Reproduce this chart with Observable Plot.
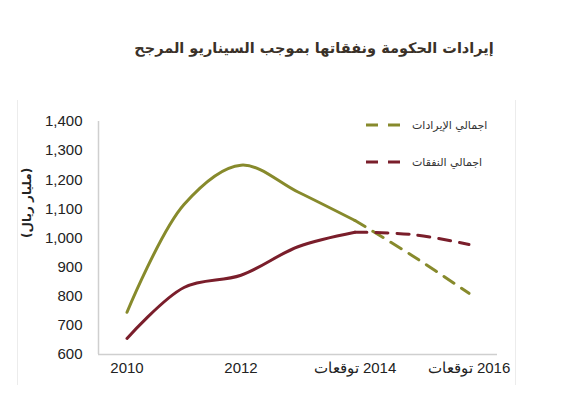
<!DOCTYPE html>
<html><head><meta charset="utf-8">
<script src="https://cdn.jsdelivr.net/npm/d3@7"></script>
<script src="https://cdn.jsdelivr.net/npm/@observablehq/plot@0.6"></script>
<style>
body{margin:0;background:#fff;width:570px;height:396px;position:relative;overflow:hidden;font-family:"Liberation Sans",Arial,sans-serif;}
#title{position:absolute;left:0;top:34px;width:628px;text-align:center;font-family:"DejaVu Sans",sans-serif;font-weight:bold;font-size:14.5px;line-height:28px;color:#3a3128;}
#chart{position:absolute;left:0;top:90px;}
.frame{position:absolute;width:1px;background:#ececec;top:100px;height:285px;}
.leg{position:absolute;left:366px;height:20px;display:flex;align-items:center;}
.leg span{font-family:"DejaVu Sans",sans-serif;font-size:11px;color:#333;margin-left:9px;}
#chart svg [aria-label="x-axis tick label"] text{direction:rtl;}
</style>
</head><body>
<div class="frame" style="left:17px"></div>
<div class="frame" style="left:515px"></div>
<div id="title" dir="rtl">إيرادات الحكومة ونفقاتها بموجب السيناريو المرجح</div>
<div id="chart"></div>
<div class="leg" style="top:115px"><svg width="37" height="6"><line x1="0" y1="3" x2="37" y2="3" stroke="#878a2c" stroke-width="3" stroke-dasharray="12,10"/></svg><span dir="rtl" id="leg1"></span></div>
<div class="leg" style="top:152px"><svg width="37" height="6"><line x1="0" y1="3" x2="37" y2="3" stroke="#7a1e2b" stroke-width="3" stroke-dasharray="12,10"/></svg><span dir="rtl" id="leg2"></span></div>
<script>
const years = [2010, 2011, 2012, 2013, 2014, 2015, 2016];
const revenue = [745, 1115, 1250, 1158, 1060, 940, 810];
const expenditure = [655, 830, 872, 970, 1020, 1012, 978];
const seriesNames = ["اجمالي الإيرادات", "اجمالي النفقات"];
const seriesColors = ["#878a2c", "#7a1e2b"];
const firstForecastYear = 2014;
const xTicks = [2010, 2012, 2014, 2016];
const xTickLabels = ["2010", "2012", "2014 توقعات", "2016 توقعات"];
const yTicks = [600, 700, 800, 900, 1000, 1100, 1200, 1300, 1400];
const yLabel = "(مليار ريال)";

document.getElementById("leg1").textContent = seriesNames[0];
document.getElementById("leg2").textContent = seriesNames[1];

const rows = [];
years.forEach((yr, i) => {
  rows.push({year: yr, value: revenue[i], series: seriesNames[0]});
  rows.push({year: yr, value: expenditure[i], series: seriesNames[1]});
});
const actual = rows.filter(d => d.year <= firstForecastYear);
const forecast = rows.filter(d => d.year >= firstForecastYear);

const chart = Plot.plot({
  width: 570,
  height: 306,
  marginLeft: 98,
  marginRight: 73,
  marginTop: 31,
  marginBottom: 42,
  style: {fontFamily: "Liberation Sans, Arial, sans-serif", color: "#222", background: "transparent"},
  x: {domain: [2009.5, 2016.5]},
  y: {domain: [600, 1400]},
  color: {domain: seriesNames, range: seriesColors},
  marks: [
    Plot.ruleX([2009.5], {y1: 600, y2: 1400, stroke: "#cfcfcf", strokeWidth: 1.5}),
    Plot.ruleY([600], {stroke: "#cfcfcf", strokeWidth: 1.5}),
    Plot.axisY({ticks: yTicks, tickSize: 0, tickPadding: 16, tickFormat: d3.format(","), fontSize: 15, label: null}),
    Plot.axisX({ticks: xTicks, tickSize: 0, tickPadding: 8, tickFormat: d => xTickLabels[xTicks.indexOf(d)], fontSize: 15, label: null}),
    Plot.text([yLabel], {frameAnchor: "left", dx: -71, rotate: -90, fontSize: 12, fontWeight: "bold", fontFamily: "DejaVu Sans", fill: "#222"}),
    Plot.line(actual, {x: "year", y: "value", z: "series", stroke: "series", strokeWidth: 3, curve: "catmull-rom"}),
    Plot.line(forecast, {x: "year", y: "value", z: "series", stroke: "series", strokeWidth: 3, strokeDasharray: "12,9", curve: "catmull-rom"})
  ]
});
document.getElementById("chart").appendChild(chart);
</script>
</body></html>
